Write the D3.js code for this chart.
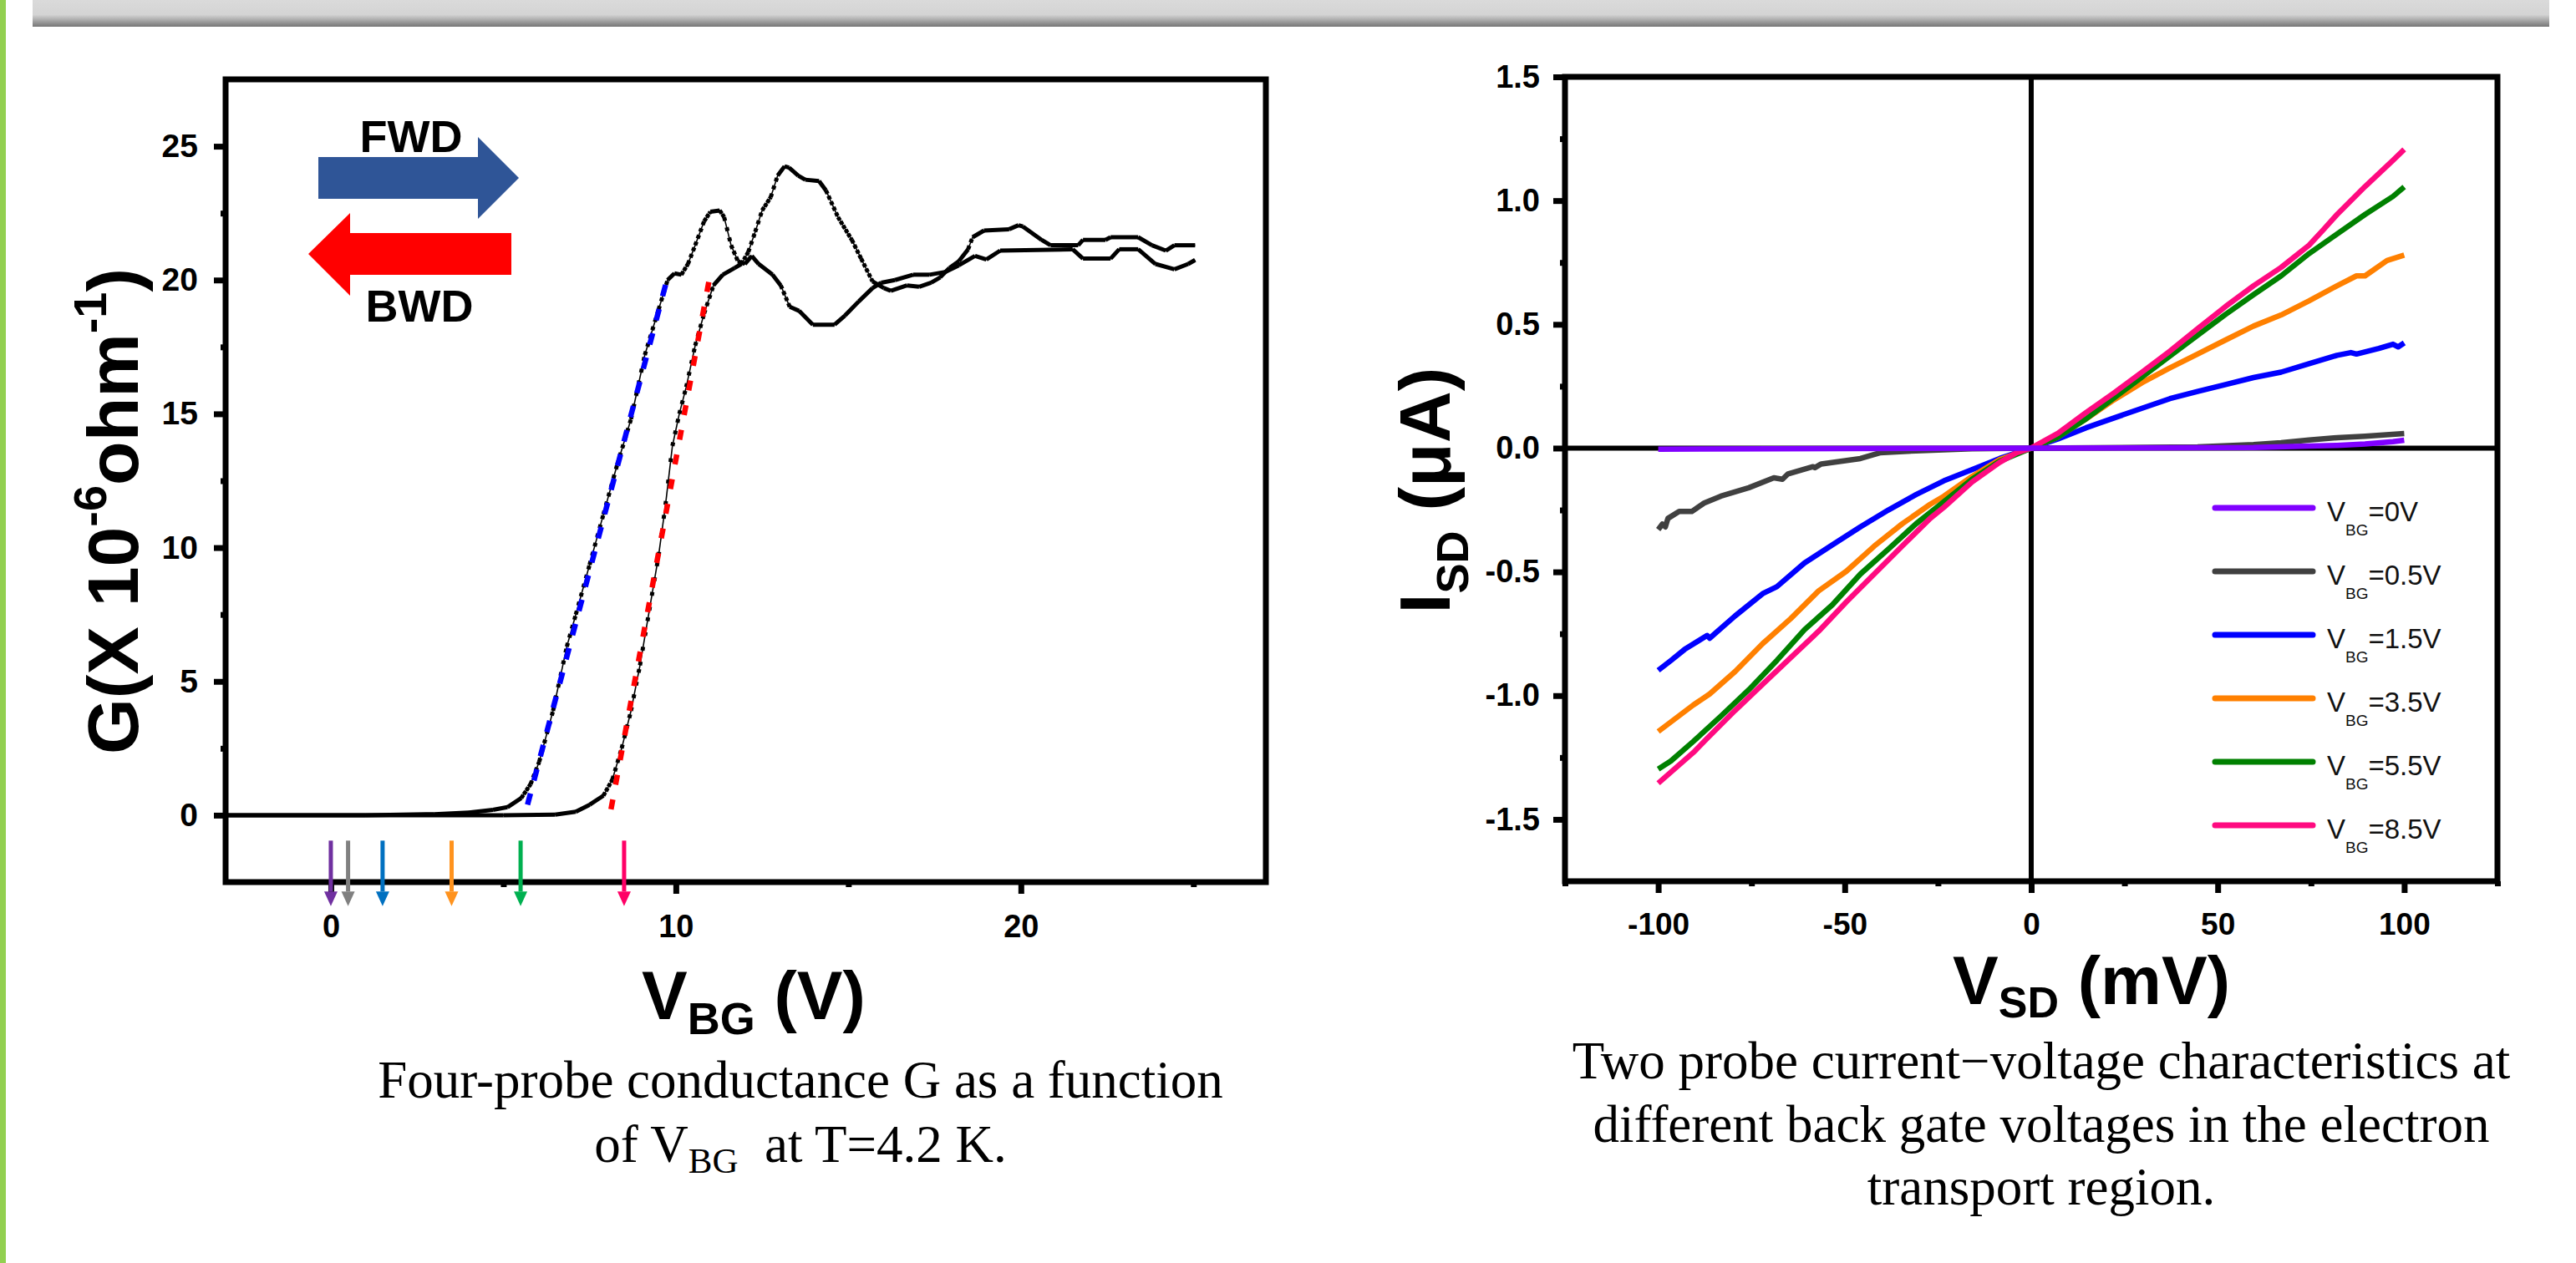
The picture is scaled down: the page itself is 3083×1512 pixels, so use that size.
<!DOCTYPE html>
<html>
<head>
<meta charset="utf-8">
<script src="https://cdn.jsdelivr.net/npm/d3@7"></script>
<style>
  body { margin: 0; background: #fff; }
  svg { display: block; }
  text { font-family: "Liberation Sans", Arial, sans-serif; white-space: pre; }
  .cap { font-family: "Liberation Serif", "Times New Roman", serif; }
</style>
</head>
<body>
<svg id="fig"></svg>
<script>
// ---- left panel: four-probe conductance G (x 1e-6 1/ohm) vs V_BG (V) ----
// sweep that turns on first (blue fit)
const sweepFwd = [[-3, 0], [1, 0], [3, 0.04], [4, 0.1], [4.7, 0.2], [5.12, 0.3], [5.52, 0.64], [5.79, 1.16],
  [6.04, 2.0], [6.44, 3.9], [6.84, 6.3], [7.1, 7.5], [7.5, 9.36], [7.9, 11.24], [8.3, 13.1], [8.7, 14.8],
  [9.1, 17.2], [9.5, 18.9], [9.76, 20.0], [9.96, 20.25], [10.16, 20.2], [10.35, 20.6], [10.56, 21.3],
  [10.82, 22.2], [11.0, 22.55], [11.27, 22.6], [11.4, 22.35], [11.6, 21.3], [11.8, 20.7], [12.0, 20.6],
  [12.2, 20.9], [12.4, 20.6], [12.8, 20.2], [13.04, 19.8], [13.3, 19.0], [13.57, 18.85], [13.97, 18.33],
  [14.6, 18.33], [14.9, 18.67], [15.3, 19.2], [15.7, 19.7], [15.95, 19.9], [16.35, 20.0], [16.88, 20.2],
  [17.35, 20.2], [17.8, 20.3], [18.2, 20.55], [18.67, 20.9], [19.0, 20.77], [19.4, 21.1], [21.5, 21.15],
  [21.8, 20.8], [22.6, 20.8], [22.85, 21.15], [23.4, 21.15], [23.9, 20.6], [24.45, 20.4], [24.85, 20.6],
  [25.05, 20.75]];
// sweep that turns on later (red fit)
const sweepBwd = [[-3, 0], [5, 0], [6.5, 0.02], [7.1, 0.13], [7.5, 0.39], [7.9, 0.73], [8.16, 1.33],
  [8.43, 2.5], [8.7, 3.9], [8.96, 5.6], [9.23, 7.65], [9.5, 9.7], [9.7, 11.6], [9.9, 13.8], [10.1, 15.0],
  [10.3, 16.0], [10.56, 17.55], [10.82, 18.75], [11.09, 19.8], [11.36, 20.2], [11.7, 20.45], [11.9, 20.6],
  [12.1, 21.05], [12.3, 21.8], [12.5, 22.6], [12.75, 23.1], [12.95, 23.9], [13.15, 24.25], [13.28, 24.2],
  [13.55, 23.9], [13.75, 23.75], [14.15, 23.7], [14.35, 23.35], [14.7, 22.35], [15.1, 21.5], [15.37, 20.8],
  [15.7, 19.95], [16.03, 19.7], [16.23, 19.6], [16.7, 19.8], [17.05, 19.75], [17.4, 19.9], [17.66, 20.1],
  [17.93, 20.45], [18.2, 20.7], [18.47, 21.15], [18.6, 21.6], [18.93, 21.85], [19.66, 21.9], [19.93, 22.05],
  [20.06, 22.0], [20.6, 21.5], [20.86, 21.3], [21.66, 21.3], [21.8, 21.5], [22.45, 21.5], [22.6, 21.6],
  [23.4, 21.6], [23.8, 21.3], [24.2, 21.1], [24.45, 21.3], [25.05, 21.3]];
const fitFwd = [[5.7, 0.39], [9.77, 20.15]];
const fitBwd = [[8.12, 0.22], [11.03, 20.45]];
const gateMarks = [0, 0.5, 1.5, 3.5, 5.5, 8.5];
const gateMarkColors = ['#7030a0', '#808080', '#0070c0', '#ff931e', '#00b050', '#ff0066'];
const gXTicks = [0, 10, 20];
const gXMinor = [5, 15, 25];
const gYTicks = [0, 5, 10, 15, 20, 25];
const gYMinor = [2.5, 7.5, 12.5, 17.5, 22.5];

// ---- right panel: two-probe I_SD (uA) vs V_SD (mV) ----
const iv0 = [[-100, -0.004], [-50, -0.002], [0, 0], [59.6, 0.002], [74.5, 0.008], [82, 0.011], [89.5, 0.017],
  [97, 0.026], [100, 0.032]];
const iv05 = [[-100, -0.329], [-98.9, -0.307], [-98.1, -0.318], [-97.4, -0.284], [-94.4, -0.256], [-91, -0.256],
  [-87.7, -0.222], [-83.2, -0.194], [-75.7, -0.16], [-69, -0.12], [-66.7, -0.126], [-65.2, -0.104],
  [-58.5, -0.075], [-58, -0.079], [-56.3, -0.064], [-45.8, -0.042], [-40.6, -0.019], [-30.9, -0.011],
  [-15.9, -0.003], [0, 0], [44.6, 0.005], [59.6, 0.014], [67, 0.022], [74.5, 0.033], [82, 0.042],
  [89.5, 0.048], [100, 0.059]];
const iv15 = [[-100, -0.898], [-96.6, -0.858], [-92.9, -0.813], [-86.9, -0.757], [-86.2, -0.768], [-79.4, -0.678],
  [-72, -0.588], [-68.2, -0.56], [-60.8, -0.464], [-53.3, -0.391], [-45.8, -0.318], [-38.3, -0.25],
  [-30.9, -0.188], [-23.4, -0.132], [-15.9, -0.087], [-8.5, -0.042], [0, 0], [7.2, 0.037], [14.7, 0.082],
  [22.2, 0.122], [29.7, 0.161], [37.2, 0.2], [44.6, 0.229], [52.1, 0.257], [59.6, 0.285], [67, 0.307],
  [74.5, 0.341], [82, 0.375], [85.7, 0.386], [87.2, 0.38], [93.2, 0.403], [97, 0.42], [98.4, 0.409], [100, 0.425]];
const iv35 = [[-100, -1.145], [-90.6, -1.038], [-86.2, -0.993], [-79.4, -0.903], [-72, -0.79], [-64.5, -0.689],
  [-57, -0.577], [-49.6, -0.498], [-42.1, -0.396], [-34.6, -0.306], [-27.1, -0.227], [-23.4, -0.194],
  [-15.9, -0.115], [-8.5, -0.047], [0, 0], [7.2, 0.045], [14.7, 0.118], [22.2, 0.195], [29.7, 0.264],
  [37.2, 0.324], [44.6, 0.38], [52.1, 0.437], [59.6, 0.493], [67, 0.538], [74.5, 0.595], [82, 0.656],
  [87.2, 0.696], [89.5, 0.696], [95.4, 0.758], [100, 0.78]];
const iv55 = [[-100, -1.297], [-96.6, -1.264], [-90.6, -1.185], [-83.2, -1.083], [-75.7, -0.976], [-68.2, -0.858],
  [-60.8, -0.734], [-53.3, -0.633], [-45.8, -0.509], [-38.3, -0.408], [-30.9, -0.306], [-23.4, -0.216],
  [-15.9, -0.126], [-8.5, -0.053], [0, 0], [7.2, 0.045], [14.7, 0.118], [22.2, 0.203], [29.7, 0.287],
  [37.2, 0.372], [44.6, 0.456], [52.1, 0.54], [59.6, 0.62], [67, 0.696], [74.5, 0.786], [82, 0.865],
  [89.5, 0.944], [97, 1.017], [100, 1.055]];
const iv85 = [[-100, -1.354], [-90.6, -1.23], [-86.9, -1.173], [-79.4, -1.06], [-72, -0.954], [-64.5, -0.847],
  [-57, -0.74], [-49.6, -0.622], [-42.1, -0.509], [-34.6, -0.396], [-27.1, -0.284], [-23.4, -0.239],
  [-15.9, -0.137], [-8.5, -0.058], [-4, -0.019], [0, 0], [7.2, 0.06], [14.7, 0.144], [22.2, 0.223],
  [29.7, 0.307], [37.2, 0.392], [44.6, 0.482], [52.1, 0.572], [59.6, 0.656], [67, 0.73], [74.5, 0.82],
  [78.3, 0.882], [82, 0.944], [89.5, 1.057], [97, 1.163], [100, 1.207]];
const ivSeries = [iv0, iv05, iv15, iv35, iv55, iv85];
const ivLabels = ['0V', '0.5V', '1.5V', '3.5V', '5.5V', '8.5V'];
const ivColors = ['#8000ff', '#404040', '#0000ff', '#ff8000', '#008000', '#ff0a80'];
const ivXTicks = [-100, -50, 0, 50, 100];
const ivXMinor = [-125, -75, -25, 25, 75, 125];
const ivYTicks = [-1.5, -1, -0.5, 0, 0.5, 1, 1.5];
const ivYMinor = [-1.25, -0.75, -0.25, 0.25, 0.75, 1.25];

const W = 3083, H = 1512;
const svg = d3.select('#fig').attr('width', W).attr('height', H);
svg.append('rect').attr('width', W).attr('height', H).attr('fill', '#fff');

// header bar and left accent stripe
const defs = svg.append('defs');
const grad = defs.append('linearGradient').attr('id', 'banner')
  .attr('x1', 0).attr('y1', 0).attr('x2', 0).attr('y2', 1);
grad.append('stop').attr('offset', '0%').attr('stop-color', '#dadada');
grad.append('stop').attr('offset', '55%').attr('stop-color', '#d4d4d4');
grad.append('stop').attr('offset', '100%').attr('stop-color', '#767676');
svg.append('rect').attr('x', 39).attr('y', 0).attr('width', 3012).attr('height', 32).attr('fill', 'url(#banner)');
svg.append('rect').attr('x', 0).attr('y', 0).attr('width', 7).attr('height', H).attr('fill', '#92d050');

function styleAxis(g, size) {
  g.select('.domain').remove();
  g.selectAll('.tick line').attr('stroke', '#000').attr('stroke-width', 7);
  g.selectAll('.tick text')
    .attr('font-size', size).attr('font-weight', 'bold').attr('fill', '#000')
    .attr('font-family', '"Liberation Sans", Arial, sans-serif');
}

// ================= left panel =================
const gx = d3.scaleLinear().domain([-3.05, 27.1]).range([270, 1515]);
const gy = d3.scaleLinear().domain([-2.5, 27.5]).range([1056, 95]);
const L = svg.append('g');

L.append('g').attr('transform', 'translate(0,1056)')
  .call(d3.axisBottom(gx).tickValues(gXTicks).tickFormat(d => String(d)).tickSize(14).tickPadding(25))
  .call(g => styleAxis(g, 38));
L.append('g').attr('transform', 'translate(0,1056)')
  .call(d3.axisBottom(gx).tickValues(gXMinor).tickFormat('').tickSize(6))
  .call(g => styleAxis(g, 38));
L.append('g').attr('transform', 'translate(270,0)')
  .call(d3.axisLeft(gy).tickValues(gYTicks).tickFormat(d => String(d)).tickSize(14).tickPadding(19))
  .call(g => styleAxis(g, 39));
L.append('g').attr('transform', 'translate(270,0)')
  .call(d3.axisLeft(gy).tickValues(gYMinor).tickFormat('').tickSize(6))
  .call(g => styleAxis(g, 39));

L.append('rect').attr('x', 270).attr('y', 95).attr('width', 1245).attr('height', 961)
  .attr('fill', 'none').attr('stroke', '#000').attr('stroke-width', 7);

// measured sweeps: thin line plus square markers, one marker every ~3 px of V_BG
const gLine = d3.line().x(d => gx(d[0])).y(d => gy(d[1]));
const markerStep = 3, markerSize = 4.5;
[sweepFwd, sweepBwd].forEach(sweep => {
  L.append('path').datum(sweep).attr('d', gLine)
    .attr('fill', 'none').attr('stroke', '#000').attr('stroke-width', 1.6);
  d3.pairs(sweep).forEach(([a, b]) => {
    const dx = Math.abs(gx(b[0]) - gx(a[0])), dy = Math.abs(gy(b[1]) - gy(a[1]));
    const len = Math.hypot(dx, dy);
    const spacing = dx > 0 ? markerStep * len / dx : len;
    const gap = Math.max(0, spacing - markerSize);
    L.append('path').datum([a, b]).attr('d', gLine)
      .attr('fill', 'none').attr('stroke', '#000').attr('stroke-width', 5)
      .attr('stroke-dasharray', gap < 0.8 ? null : `${markerSize} ${gap}`);
  });
});

// linear fits
L.append('path').datum(fitFwd).attr('d', gLine).attr('fill', 'none')
  .attr('stroke', '#0000ff').attr('stroke-width', 6.5).attr('stroke-dasharray', '14 16');
L.append('path').datum(fitBwd).attr('d', gLine).attr('fill', 'none')
  .attr('stroke', '#ff0000').attr('stroke-width', 6.5).attr('stroke-dasharray', '12 18');

// gate voltage markers below the curves
gateMarks.forEach((v, i) => {
  const x = gx(v), c = gateMarkColors[i];
  L.append('line').attr('x1', x).attr('x2', x).attr('y1', gy(-0.95)).attr('y2', gy(-2.85))
    .attr('stroke', c).attr('stroke-width', 5);
  L.append('path')
    .attr('d', `M${x - 8},${gy(-2.85)} L${x + 8},${gy(-2.85)} L${x},${gy(-3.4)} Z`)
    .attr('fill', c);
});

// sweep direction arrows
L.append('path').attr('d', 'M381,188 L572,188 L572,164 L621,213 L572,262 L572,238 L381,238 Z')
  .attr('fill', '#2f5597');
L.append('path').attr('d', 'M612,279 L419,279 L419,255 L369,304 L419,354 L419,329 L612,329 Z')
  .attr('fill', '#ff0000');
L.append('text').attr('x', 492).attr('y', 182).attr('text-anchor', 'middle')
  .attr('font-size', 54).attr('font-weight', 'bold').text('FWD');
L.append('text').attr('x', 502).attr('y', 385).attr('text-anchor', 'middle')
  .attr('font-size', 54).attr('font-weight', 'bold').text('BWD');

// axis titles
const gTitleY = L.append('text').attr('transform', 'translate(165,612) rotate(-90)')
  .attr('text-anchor', 'middle').attr('font-size', 86).attr('font-weight', 'bold');
gTitleY.append('tspan').text('G(X 10');
gTitleY.append('tspan').attr('font-size', 56).attr('dy', -38).text('-6');
gTitleY.append('tspan').attr('dy', 38).text('ohm');
gTitleY.append('tspan').attr('font-size', 56).attr('dy', -38).text('-1');
gTitleY.append('tspan').attr('dy', 38).text(')');

const gTitleX = L.append('text').attr('x', 768).attr('y', 1220)
  .attr('font-size', 82).attr('font-weight', 'bold');
gTitleX.append('tspan').text('V');
gTitleX.append('tspan').attr('font-size', 54).attr('dy', 18).text('BG');
gTitleX.append('tspan').attr('dy', -18).text(' (V)');

const capL = L.append('text').attr('class', 'cap').attr('text-anchor', 'middle').attr('font-size', 63);
capL.append('tspan').attr('x', 958).attr('y', 1314).text('Four-probe conductance G as a function');
const capL2 = L.append('text').attr('class', 'cap').attr('text-anchor', 'middle').attr('font-size', 63)
  .attr('x', 958).attr('y', 1391);
capL2.append('tspan').text('of V');
capL2.append('tspan').attr('font-size', 43).attr('dy', 13).text('BG');
capL2.append('tspan').attr('dy', -13).text('  at T=4.2 K.');

// ================= right panel =================
const ix = d3.scaleLinear().domain([-125, 125]).range([1873, 2989]);
const iy = d3.scaleLinear().domain([-1.75, 1.5]).range([1055, 92]);
const R = svg.append('g');

R.append('g').attr('transform', 'translate(0,1055)')
  .call(d3.axisBottom(ix).tickValues(ivXTicks).tickFormat(d => String(d)).tickSize(14).tickPadding(24))
  .call(g => styleAxis(g, 37));
R.append('g').attr('transform', 'translate(0,1055)')
  .call(d3.axisBottom(ix).tickValues(ivXMinor).tickFormat('').tickSize(6))
  .call(g => styleAxis(g, 37));
R.append('g').attr('transform', 'translate(1873,0)')
  .call(d3.axisLeft(iy).tickValues(ivYTicks).tickFormat(d => d.toFixed(1)).tickSize(14).tickPadding(16))
  .call(g => styleAxis(g, 38));
R.append('g').attr('transform', 'translate(1873,0)')
  .call(d3.axisLeft(iy).tickValues(ivYMinor).tickFormat('').tickSize(6))
  .call(g => styleAxis(g, 38));

R.append('rect').attr('x', 1873).attr('y', 92).attr('width', 1116).attr('height', 963)
  .attr('fill', 'none').attr('stroke', '#000').attr('stroke-width', 7);

// zero lines
R.append('line').attr('x1', ix(-125)).attr('x2', ix(125)).attr('y1', iy(0)).attr('y2', iy(0))
  .attr('stroke', '#000').attr('stroke-width', 6);
R.append('line').attr('x1', ix(0)).attr('x2', ix(0)).attr('y1', iy(-1.75)).attr('y2', iy(1.5))
  .attr('stroke', '#000').attr('stroke-width', 6);

const ivLine = d3.line().x(d => ix(d[0])).y(d => iy(d[1]));
const drawOrder = [1, 2, 3, 4, 5, 0];
drawOrder.forEach(i => {
  R.append('path').datum(ivSeries[i]).attr('d', ivLine)
    .attr('fill', 'none').attr('stroke', ivColors[i]).attr('stroke-width', 6.5)
    .attr('stroke-linejoin', 'round');
});

// legend
ivLabels.forEach((lab, i) => {
  const ly = 608 + i * 76;
  R.append('line').attr('x1', 2651).attr('x2', 2768).attr('y1', ly).attr('y2', ly)
    .attr('stroke', ivColors[i]).attr('stroke-width', 7).attr('stroke-linecap', 'round');
  const t = R.append('text').attr('x', 2785).attr('y', ly + 16).attr('font-size', 33).attr('fill', '#111');
  t.append('tspan').text('V');
  t.append('tspan').attr('font-size', 19).attr('dy', 17).text('BG');
  t.append('tspan').attr('dy', -17).text('=' + lab);
});

// axis titles
const iTitleY = R.append('text').attr('transform', 'translate(1735,587) rotate(-90)')
  .attr('text-anchor', 'middle').attr('font-size', 86).attr('font-weight', 'bold');
iTitleY.append('tspan').text('I');
iTitleY.append('tspan').attr('font-size', 54).attr('dy', 22).text('SD');
iTitleY.append('tspan').attr('dy', -22).text(' (μA)');

const iTitleX = R.append('text').attr('x', 2337).attr('y', 1202)
  .attr('font-size', 82).attr('font-weight', 'bold');
iTitleX.append('tspan').text('V');
iTitleX.append('tspan').attr('font-size', 52).attr('dy', 16).text('SD');
iTitleX.append('tspan').attr('dy', -16).text(' (mV)');

const capR = ['Two probe current\u2212voltage characteristics at',
  'different back gate voltages in the electron',
  'transport region.'];
capR.forEach((line, i) => {
  R.append('text').attr('class', 'cap').attr('x', 2443).attr('y', 1291 + i * 75.5)
    .attr('text-anchor', 'middle').attr('font-size', 63).text(line);
});
</script>
</body>
</html>
